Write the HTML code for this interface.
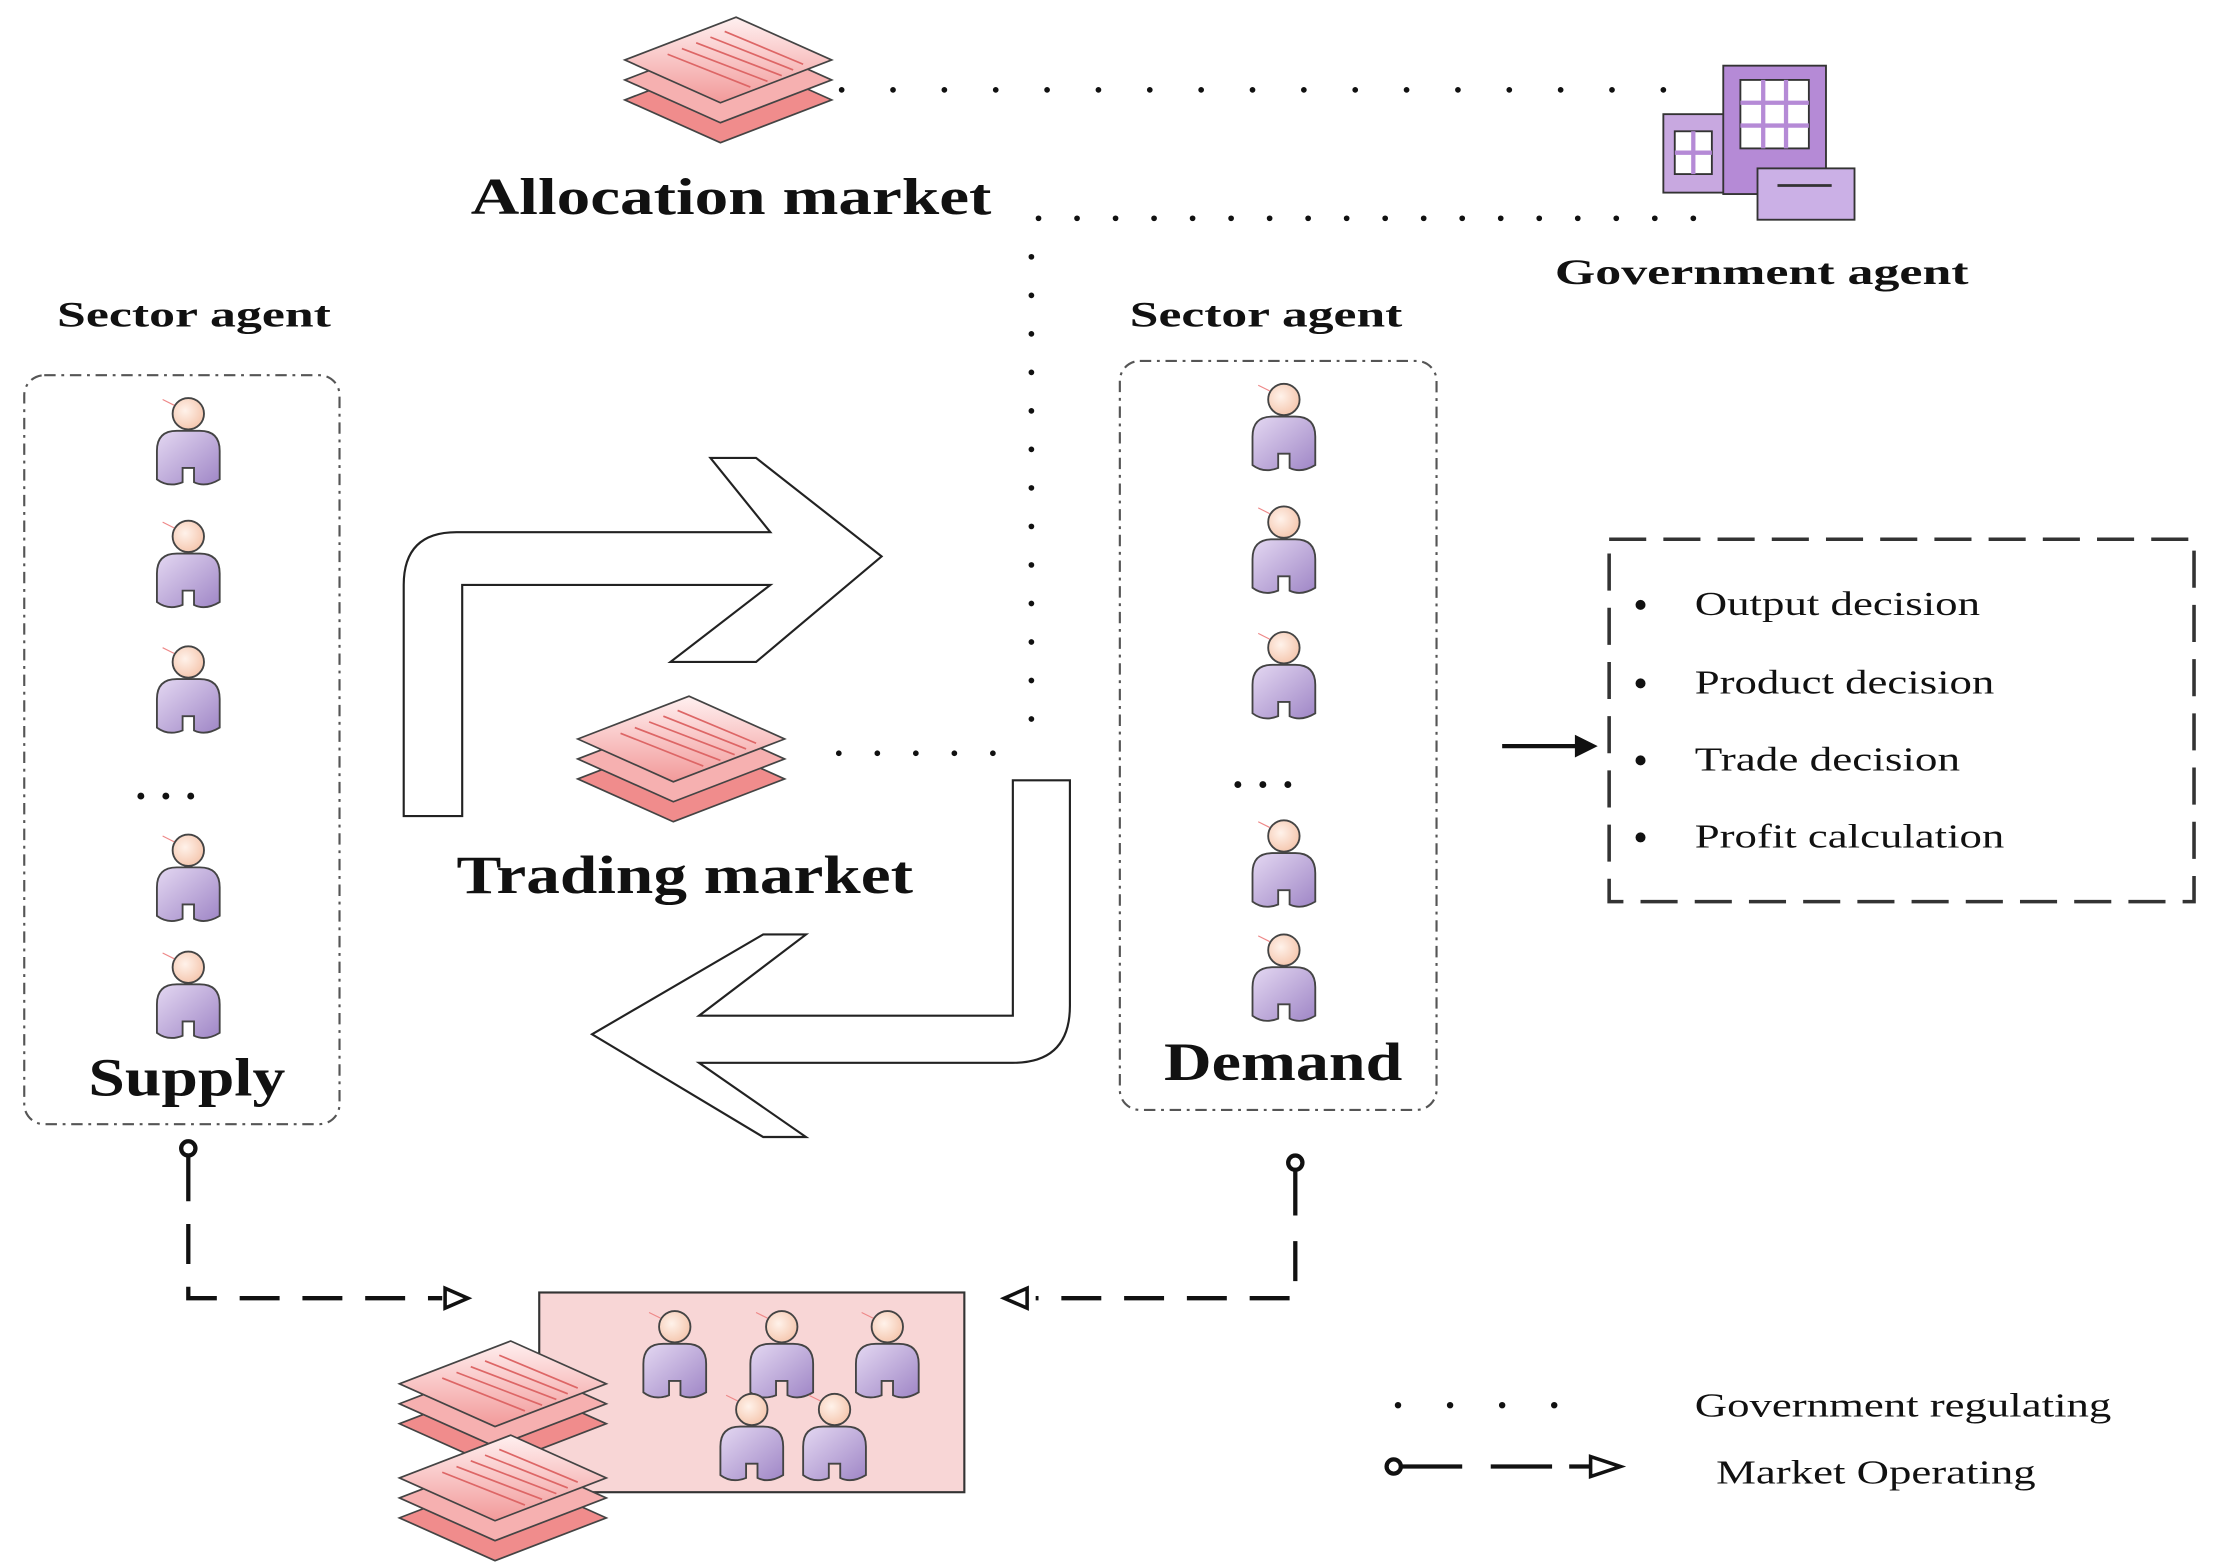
<!DOCTYPE html>
<html><head><meta charset="utf-8"><style>
html,body{margin:0;padding:0;background:#fff;}
svg{display:block;}
text{font-family:"Liberation Serif",serif;fill:#111;}
</style></head><body>
<svg width="2214" height="1565" viewBox="0 0 1552 1097" xmlns="http://www.w3.org/2000/svg">
<defs>
<linearGradient id="bodyg" x1="0" y1="0" x2="1" y2="1"><stop offset="0" stop-color="#e4d8f2"/><stop offset="1" stop-color="#9f86c6"/></linearGradient>
<radialGradient id="headg" cx="0.4" cy="0.4" r="0.7"><stop offset="0" stop-color="#fff2ea"/><stop offset="1" stop-color="#f4c2a8"/></radialGradient>
<linearGradient id="sheet" x1="0" y1="0" x2="0" y2="1"><stop offset="0" stop-color="#fff0f0"/><stop offset="1" stop-color="#f29a9a"/></linearGradient>
<symbol id="p" viewBox="-26 -36 52 72" overflow="visible">
<path d="M-22,26 L-22,6 Q-22,-8 -8,-8 L8,-8 Q22,-8 22,6 L22,26 Q12,32 4,28 L4,18 L-4,18 L-4,28 Q-14,32 -22,26 Z" fill="url(#bodyg)" stroke="#444" stroke-width="1.3"/>
<circle cx="0" cy="-20" r="11" fill="url(#headg)" stroke="#444" stroke-width="1.3"/>
<line x1="-18" y1="-30" x2="-10" y2="-26" stroke="#e88" stroke-width="0.8"/>
</symbol>
<symbol id="d" viewBox="0 0 145 90" overflow="visible">
<g stroke="#444" stroke-width="1.2">
<polygon points="0,58 78,28 145,58 67,88" fill="#f08c8c"/>
<polygon points="0,44 78,14 145,44 67,74" fill="#f6b0b0"/>
<polygon points="0,30 78,0 145,30 67,60" fill="url(#sheet)"/>
</g>
<g stroke="#d66" stroke-width="1.2">
<line x1="40" y1="22" x2="100" y2="45"/><line x1="50" y1="18" x2="110" y2="41"/><line x1="60" y1="14" x2="118" y2="37"/><line x1="70" y1="10" x2="125" y2="33"/><line x1="30" y1="26" x2="88" y2="49"/>
</g>
</symbol>
</defs>

<use href="#d" x="438" y="12" width="145" height="90"/>
<line x1="590" y1="63" x2="1190" y2="63" stroke="#111" stroke-width="4" stroke-dasharray="0 36" stroke-linecap="round"/>
<text x="330" y="150" font-size="36" font-weight="bold" textLength="365" lengthAdjust="spacingAndGlyphs">Allocation market</text>
<line x1="728" y1="153" x2="1200" y2="153" stroke="#111" stroke-width="4" stroke-dasharray="0 27" stroke-linecap="round"/>
<line x1="723" y1="180" x2="723" y2="520" stroke="#111" stroke-width="4" stroke-dasharray="0 27" stroke-linecap="round"/>
<line x1="588" y1="528" x2="723" y2="528" stroke="#111" stroke-width="4" stroke-dasharray="0 27" stroke-linecap="round"/>

<g stroke="#333" stroke-width="1.3">
<rect x="1166" y="80" width="46" height="55" fill="#c8a8e0"/>
<rect x="1208" y="46" width="72" height="90" fill="#b58ad6"/>
<rect x="1232" y="118" width="68" height="36" fill="#cbb0e6"/>
<rect x="1220" y="56" width="48" height="48" fill="#fff"/>
<rect x="1174" y="92" width="26" height="30" fill="#fff"/>
</g>
<g stroke="#b58ad6" stroke-width="3"><line x1="1236" y1="56" x2="1236" y2="104"/><line x1="1252" y1="56" x2="1252" y2="104"/><line x1="1220" y1="72" x2="1268" y2="72"/><line x1="1220" y1="88" x2="1268" y2="88"/><line x1="1187" y1="92" x2="1187" y2="122"/><line x1="1174" y1="107" x2="1200" y2="107"/></g>
<line x1="1246" y1="130" x2="1284" y2="130" stroke="#333" stroke-width="2"/>
<text x="1090" y="199" font-size="25" font-weight="bold" textLength="290" lengthAdjust="spacingAndGlyphs">Government agent</text>

<text x="40" y="229" font-size="25" font-weight="bold" textLength="192" lengthAdjust="spacingAndGlyphs">Sector agent</text>
<text x="792" y="229" font-size="25" font-weight="bold" textLength="191" lengthAdjust="spacingAndGlyphs">Sector agent</text>
<rect x="17" y="263" width="221" height="525" rx="14" fill="none" stroke="#555" stroke-width="1.5" stroke-dasharray="8 4 2 4"/>
<rect x="785" y="253" width="222" height="525" rx="14" fill="none" stroke="#555" stroke-width="1.5" stroke-dasharray="8 4 2 4"/>
<use href="#p" x="106" y="274" width="52" height="72"/>
<use href="#p" x="106" y="360" width="52" height="72"/>
<use href="#p" x="106" y="448" width="52" height="72"/>
<use href="#p" x="106" y="580" width="52" height="72"/>
<use href="#p" x="106" y="662" width="52" height="72"/>
<text x="95" y="560" font-size="30" font-weight="bold" letter-spacing="10">...</text>
<text x="62" y="768" font-size="38" font-weight="bold" textLength="138" lengthAdjust="spacingAndGlyphs">Supply</text>
<use href="#p" x="874" y="264" width="52" height="72"/>
<use href="#p" x="874" y="350" width="52" height="72"/>
<use href="#p" x="874" y="438" width="52" height="72"/>
<use href="#p" x="874" y="570" width="52" height="72"/>
<use href="#p" x="874" y="650" width="52" height="72"/>
<text x="864" y="552" font-size="30" font-weight="bold" letter-spacing="10">...</text>
<text x="816" y="757" font-size="38" font-weight="bold" textLength="167" lengthAdjust="spacingAndGlyphs">Demand</text>

<path d="M283,572 L283,410 Q283,373 320,373 L540,373 L498,321 L530,321 L618,390 L530,464 L470,464 L540,410 L324,410 L324,572 Z" fill="#fff" stroke="#222" stroke-width="1.5"/>
<path d="M750,547 L750,705 Q750,745 710,745 L490,745 L565,797 L535,797 L415,725 L535,655 L565,655 L490,712 L710,712 L710,547 Z" fill="#fff" stroke="#222" stroke-width="1.5"/>
<use href="#d" x="405" y="488" width="145" height="90"/>
<text x="320" y="626" font-size="38" font-weight="bold" textLength="320" lengthAdjust="spacingAndGlyphs">Trading market</text>

<rect x="1128" y="378" width="410" height="254" fill="none" stroke="#333" stroke-width="2.5" stroke-dasharray="26 12"/>
<g font-size="24">
<circle cx="1150" cy="424" r="3.5" fill="#111"/><text x="1188" y="431" textLength="200" lengthAdjust="spacingAndGlyphs">Output decision</text>
<circle cx="1150" cy="479" r="3.5" fill="#111"/><text x="1188" y="486" textLength="210" lengthAdjust="spacingAndGlyphs">Product decision</text>
<circle cx="1150" cy="533" r="3.5" fill="#111"/><text x="1188" y="540" textLength="186" lengthAdjust="spacingAndGlyphs">Trade decision</text>
<circle cx="1150" cy="587" r="3.5" fill="#111"/><text x="1188" y="594" textLength="217" lengthAdjust="spacingAndGlyphs">Profit calculation</text>
</g>
<line x1="1053" y1="523" x2="1108" y2="523" stroke="#111" stroke-width="3"/>
<polygon points="1120,523 1104,515 1104,531" fill="#111"/>

<g stroke="#111" stroke-width="3" fill="none">
<circle cx="132" cy="805" r="5" fill="#fff"/>
<line x1="132" y1="810" x2="132" y2="842"/>
<path d="M132,858 L132,910 L310,910" stroke-dasharray="28 16"/>
<polygon points="312,903 312,917 328,910" fill="#fff" stroke-width="2.5"/>
<circle cx="908" cy="815" r="5" fill="#fff"/>
<line x1="908" y1="820" x2="908" y2="852"/>
<path d="M908,870 L908,910 L726,910" stroke-dasharray="28 16"/>
<polygon points="720,903 720,917 704,910" fill="#fff" stroke-width="2.5"/>
</g>

<rect x="378" y="906" width="298" height="140" fill="#f8d6d6" stroke="#333" stroke-width="1.5"/>
<use href="#d" x="280" y="940" width="145" height="90"/>
<use href="#d" x="280" y="1006" width="145" height="90"/>
<use href="#p" x="447" y="914" width="52" height="72"/>
<use href="#p" x="522" y="914" width="52" height="72"/>
<use href="#p" x="596" y="914" width="52" height="72"/>
<use href="#p" x="501" y="972" width="52" height="72"/>
<use href="#p" x="559" y="972" width="52" height="72"/>

<line x1="980" y1="985" x2="1126" y2="985" stroke="#111" stroke-width="4.5" stroke-dasharray="0 36.5" stroke-linecap="round"/>
<text x="1188" y="993" font-size="24" textLength="292" lengthAdjust="spacingAndGlyphs">Government regulating</text>
<g stroke="#111" stroke-width="3" fill="none">
<circle cx="977" cy="1028" r="5" fill="#fff"/>
<line x1="982" y1="1028" x2="1025" y2="1028"/>
<line x1="1045" y1="1028" x2="1088" y2="1028"/>
<line x1="1100" y1="1028" x2="1115" y2="1028"/>
<polygon points="1115,1021 1115,1035 1136,1028" fill="#fff" stroke-width="2.5"/>
</g>
<text x="1203" y="1040" font-size="24" textLength="224" lengthAdjust="spacingAndGlyphs">Market Operating</text>
</svg>
</body></html>
